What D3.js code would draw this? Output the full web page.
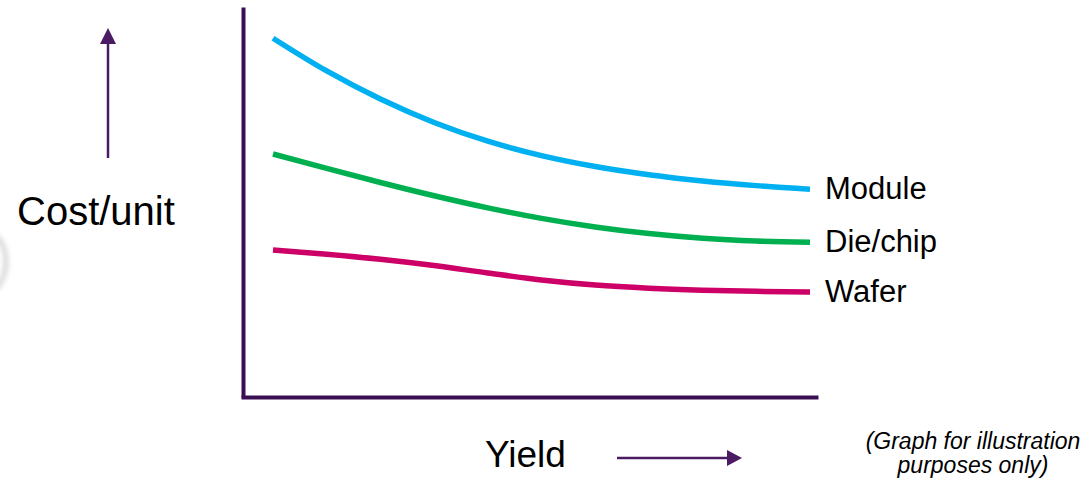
<!DOCTYPE html>
<html>
<head>
<meta charset="utf-8">
<script src="https://cdn.jsdelivr.net/npm/d3@7"></script>
<style>
  html, body { margin: 0; padding: 0; background: #ffffff; }
  svg { display: block; font-family: "Liberation Sans", Arial, sans-serif; }
</style>
</head>
<body>
<svg id="chart" width="1089" height="482"></svg>
<script>
// ---- data (illustrative curves) ----
const yieldSteps = [0, 1, 2, 3, 4, 5, 6, 7, 8, 9, 10];
const seriesNames = ["Module", "Die/chip", "Wafer"];
const moduleCost = [92.0, 83.6, 76.4, 70.4, 65.6, 61.9, 59.1, 57.0, 55.4, 54.2, 53.3];
const dieCost    = [62.3, 58.6, 55.0, 51.6, 48.5, 45.8, 43.6, 41.9, 40.7, 40.0, 39.7];
const waferCost  = [37.7, 36.6, 35.3, 33.7, 31.8, 30.0, 28.7, 27.9, 27.4, 27.1, 26.9];
const seriesColors = ["#00b0f0", "#00b050", "#cc0066"];
const axisTitleY = "Cost/unit";
const axisTitleX = "Yield";
const noteLines = ["(Graph for illustration", "purposes only)"];

const seriesValues = [moduleCost, dieCost, waferCost];

const svg = d3.select("#chart");

// scales
const x = d3.scaleLinear().domain([0, 10]).range([273, 810]);
const y = d3.scaleLinear().domain([0, 100]).range([397, 7]);

const axisColor = "#3a1054";
const arrowColor = "#4a1a62";

// faint decorative arc at the left edge
const defs = svg.append("defs");
defs.append("filter").attr("id", "blur")
  .append("feGaussianBlur").attr("stdDeviation", 2.5);
svg.append("circle")
  .attr("cx", -34).attr("cy", 262).attr("r", 40)
  .attr("fill", "none").attr("stroke", "#b8b8b8")
  .attr("stroke-width", 5).attr("opacity", 0.55)
  .attr("filter", "url(#blur)");

// axes (plain lines, no ticks)
const yAxis = d3.axisLeft(y).tickValues([]).tickSize(0).tickSizeOuter(0);
const xAxis = d3.axisBottom(d3.scaleLinear().domain([0, 1]).range([241, 818]))
  .tickValues([]).tickSize(0).tickSizeOuter(0);

const gy = svg.append("g").attr("transform", "translate(243,0)").call(yAxis);
gy.select(".domain").attr("stroke", axisColor).attr("stroke-width", 4);

const gx = svg.append("g").attr("transform", `translate(0,${y(0)})`).call(xAxis);
gx.select(".domain").attr("stroke", axisColor).attr("stroke-width", 4);

// curves
const line = d3.line()
  .x((d, i) => x(yieldSteps[i]))
  .y(d => y(d))
  .curve(d3.curveMonotoneX);

svg.selectAll("path.series")
  .data(seriesValues)
  .join("path")
  .attr("class", "series")
  .attr("d", d => line(d))
  .attr("fill", "none")
  .attr("stroke", (d, i) => seriesColors[i])
  .attr("stroke-width", 5.5);

// end labels
svg.selectAll("text.label")
  .data(seriesValues)
  .join("text")
  .attr("class", "label")
  .attr("x", x(yieldSteps[yieldSteps.length - 1]) + 15)
  .attr("y", d => y(d[d.length - 1]) + 10)
  .attr("font-size", 31)
  .attr("fill", "#000")
  .text((d, i) => seriesNames[i]);

// y title with arrow
svg.append("text")
  .attr("x", 17).attr("y", 225)
  .attr("font-size", 40).attr("fill", "#000")
  .text(axisTitleY);

svg.append("line")
  .attr("x1", 108).attr("x2", 108).attr("y1", 158).attr("y2", 42)
  .attr("stroke", arrowColor).attr("stroke-width", 2.5);
svg.append("path")
  .attr("d", "M108,28 L116,44 L100,44 Z")
  .attr("fill", arrowColor);

// x title with arrow
svg.append("text")
  .attr("x", 485).attr("y", 467)
  .attr("font-size", 37).attr("fill", "#000")
  .text(axisTitleX);

svg.append("line")
  .attr("x1", 617).attr("x2", 728).attr("y1", 458).attr("y2", 458)
  .attr("stroke", arrowColor).attr("stroke-width", 2.5);
svg.append("path")
  .attr("d", "M742,458 L727,450 L727,466 Z")
  .attr("fill", arrowColor);

// note
svg.selectAll("text.note")
  .data(noteLines)
  .join("text")
  .attr("class", "note")
  .attr("x", 973)
  .attr("y", (d, i) => 449 + i * 24)
  .attr("text-anchor", "middle")
  .attr("font-size", 23)
  .attr("font-style", "italic")
  .attr("fill", "#000")
  .text(d => d);
</script>
</body>
</html>
